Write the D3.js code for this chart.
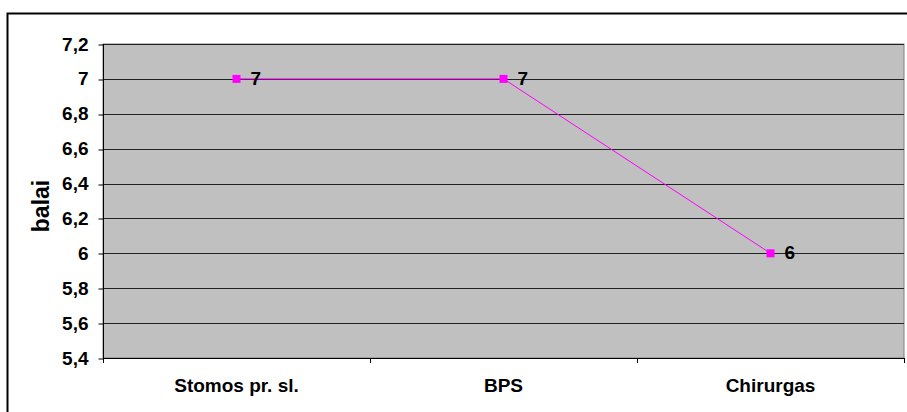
<!DOCTYPE html>
<html>
<head>
<meta charset="utf-8">
<script src="https://cdn.jsdelivr.net/npm/d3@7"></script>
<style>
  html, body { margin: 0; padding: 0; background: #fff; }
  svg { display: block; }
  text { font-family: Arial, "Liberation Sans", sans-serif; font-weight: bold; fill: #000; }
</style>
</head>
<body>
<svg id="chart" width="907" height="412"></svg>
<script>
const categories = ["Stomos pr. sl.", "BPS", "Chirurgas"];
const values = [7, 7, 6];
const yTicks = [5.4, 5.6, 5.8, 6, 6.2, 6.4, 6.6, 6.8, 7, 7.2];
const yTitle = "balai";

const FONT = "Arial, 'Liberation Sans', sans-serif";
const svg = d3.select("#chart");
const W = 907, H = 412;
const plot = { left: 103, top: 44, right: 904, bottom: 358 };

// outer chart frame
svg.append("rect")
  .attr("x", 7.5).attr("y", 13.5)
  .attr("width", W + 10).attr("height", H + 10)
  .attr("fill", "#fff").attr("stroke", "#000").attr("stroke-width", 2);

const x = d3.scaleBand().domain(categories).range([plot.left, plot.right]);
const y = d3.scaleLinear().domain([5.4, 7.2]).range([plot.bottom, plot.top]);

// plot area background
svg.append("rect")
  .attr("x", plot.left).attr("y", plot.top)
  .attr("width", plot.right - plot.left).attr("height", plot.bottom - plot.top)
  .attr("fill", "#C0C0C0").attr("stroke", "#808080").attr("stroke-width", 1);

// horizontal gridlines
svg.append("g").selectAll("line").data(yTicks.slice(1)).join("line")
  .attr("x1", plot.left).attr("x2", plot.right)
  .attr("y1", d => Math.round(y(d)) + 0.5).attr("y2", d => Math.round(y(d)) + 0.5)
  .attr("stroke", "#222").attr("stroke-width", 1);

// y axis
const yAxis = d3.axisLeft(y).tickValues(yTicks).tickSize(5).tickPadding(10)
  .tickFormat(d => d3.format("~g")(d).replace(".", ","));
const gy = svg.append("g").attr("transform", `translate(${plot.left + 0.5},0)`).call(yAxis);
gy.attr("font-size", null).attr("font-family", null);
gy.select(".domain").attr("stroke", "#000").attr("d", `M0,${plot.top}V${plot.bottom + 5}`);
gy.selectAll(".tick line").attr("stroke", "#000")
  .attr("transform", d => `translate(0,${Math.round(y(d)) + 0.5 - y(d)})`);
gy.selectAll(".tick text").style("font-size", "19px").style("font-weight", "bold")
  .style("font-family", FONT).attr("fill", "#000");

// x axis
const xAxis = d3.axisBottom(x).tickSize(0).tickPadding(20);
const gx = svg.append("g").attr("transform", `translate(0,${plot.bottom + 0.5})`).call(xAxis);
gx.attr("font-size", null).attr("font-family", null);
gx.select(".domain").attr("stroke", "#000").attr("d", `M${plot.left},0H${plot.right}`);
gx.selectAll(".tick text").style("font-size", "19px").style("font-weight", "bold")
  .style("font-family", FONT).attr("fill", "#000");

// category separators below the axis
const bounds = categories.map(c => x(c)).concat([x(categories[categories.length - 1]) + x.bandwidth()]);
svg.append("g").selectAll("line").data(bounds).join("line")
  .attr("x1", d => Math.round(d) + 0.5).attr("x2", d => Math.round(d) + 0.5)
  .attr("y1", plot.bottom).attr("y2", plot.bottom + 5)
  .attr("stroke", "#000");

// y axis title
svg.append("text")
  .attr("transform", `translate(49,${(plot.top + plot.bottom) / 2 + 5}) rotate(-90)`)
  .attr("text-anchor", "middle")
  .style("font-size", "23px")
  .text(yTitle);

// series line
const pts = categories.map((c, i) => [x(c) + x.bandwidth() / 2, y(values[i])]);
svg.append("path")
  .attr("d", d3.line()(pts))
  .attr("fill", "none").attr("stroke", "#FF00FF").attr("stroke-width", 1);

// markers
svg.append("g").selectAll("rect").data(pts).join("rect")
  .attr("x", d => d[0] - 4).attr("y", d => d[1] - 4)
  .attr("width", 8).attr("height", 8)
  .attr("fill", "#FF00FF");

// value labels
svg.append("g").selectAll("text").data(pts).join("text")
  .attr("x", d => d[0] + 14).attr("y", d => d[1] + 6)
  .style("font-size", "19px")
  .text((d, i) => values[i]);
</script>
</body>
</html>
